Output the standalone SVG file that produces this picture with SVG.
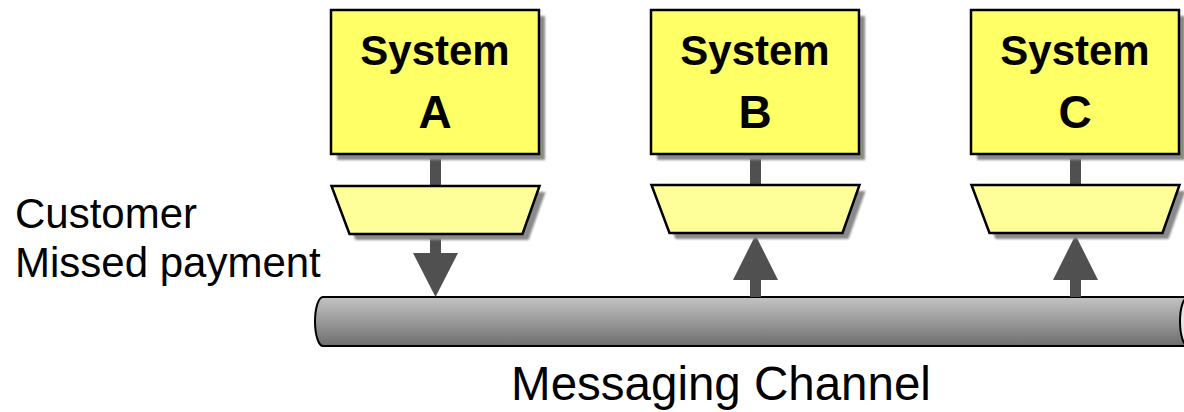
<svg xmlns="http://www.w3.org/2000/svg" width="1184" height="412" viewBox="0 0 1184 412">
  <defs>
    <linearGradient id="pipeGrad" x1="0" y1="0" x2="0" y2="1">
      <stop offset="0" stop-color="#c4c4c4"/>
      <stop offset="1" stop-color="#6e6e6e"/>
    </linearGradient>
    <filter id="soft" x="-10%" y="-10%" width="120%" height="120%">
      <feGaussianBlur stdDeviation="1"/>
    </filter>
    <!-- endpoint shape: trapezoid centred on x=0 -->
    <polygon id="trap" points="-104,0 104,0 87,48 -86,48"/>
  </defs>
  <style>
    .sys { fill: #ffff66; stroke: #000; stroke-width: 2.5; }
    .shadow { fill: #8a8a8a; filter: url(#soft); }
    .ep { fill: #ffff99; stroke: #000; stroke-width: 2.5; }
    .stem { fill: #505050; }
    .title { font-family: "Liberation Sans", Arial, sans-serif; font-weight: bold; font-size: 42px; text-anchor: middle; fill: #000; }
    .letter { font-family: "Liberation Sans", Arial, sans-serif; font-weight: bold; font-size: 46px; text-anchor: middle; fill: #000; }
    .label { font-family: "Liberation Sans", Arial, sans-serif; font-size: 42px; fill: #000; }
    .chan { font-family: "Liberation Sans", Arial, sans-serif; font-size: 47.5px; text-anchor: middle; fill: #000; }
  </style>

  <!-- messaging channel pipe -->
  <g id="channel">
    <path d="M323,297 H1192 V346 H323 A8,24.5 0 0 1 323,297 Z" fill="url(#pipeGrad)" stroke="#000" stroke-width="2"/>
    <ellipse cx="1188" cy="321.5" rx="8" ry="24.5" fill="#e6e6e6" stroke="#000" stroke-width="2"/>
    <text class="chan" x="721" y="400">Messaging Channel</text>
  </g>

  <!-- connectors: stems and arrows between systems, endpoints and channel -->
  <g id="connectors">
    <rect class="stem" x="430" y="154" width="11" height="32"/>
    <rect class="stem" x="750" y="154" width="11" height="32"/>
    <rect class="stem" x="1070" y="154" width="11" height="32"/>
    <!-- A sends down -->
    <rect class="stem" x="430" y="234" width="11" height="20"/>
    <polygon class="stem" points="413,253 458,253 435.5,297"/>
    <!-- B receives up -->
    <rect class="stem" x="750" y="278" width="11" height="19"/>
    <polygon class="stem" points="733,280 778,280 755.5,235"/>
    <!-- C receives up -->
    <rect class="stem" x="1070" y="278" width="11" height="19"/>
    <polygon class="stem" points="1053,280 1098,280 1075.5,235"/>
  </g>

  <g id="systemA">
    <rect class="shadow" x="337" y="16" width="208" height="144"/>
    <rect class="sys" x="331" y="10" width="208" height="144"/>
    <text class="title" x="435" y="65">System</text>
    <text class="letter" x="435" y="128">A</text>
  </g>
  <g id="systemB">
    <rect class="shadow" x="657" y="16" width="208" height="144"/>
    <rect class="sys" x="651" y="10" width="208" height="144"/>
    <text class="title" x="755" y="65">System</text>
    <text class="letter" x="755" y="128">B</text>
  </g>
  <g id="systemC">
    <rect class="shadow" x="977" y="16" width="208" height="144"/>
    <rect class="sys" x="971" y="10" width="208" height="144"/>
    <text class="title" x="1075" y="65">System</text>
    <text class="letter" x="1075" y="128">C</text>
  </g>

  <g id="endpointA">
    <use href="#trap" class="shadow" x="441.5" y="192"/>
    <use href="#trap" class="ep" x="435.5" y="186"/>
  </g>
  <g id="endpointB">
    <use href="#trap" class="shadow" x="761.5" y="191"/>
    <use href="#trap" class="ep" x="755.5" y="185"/>
  </g>
  <g id="endpointC">
    <use href="#trap" class="shadow" x="1081.5" y="191"/>
    <use href="#trap" class="ep" x="1075.5" y="185"/>
  </g>

  <g id="message-label">
    <text class="label" x="15" y="228">Customer</text>
    <text class="label" x="15" y="277">Missed payment</text>
  </g>
</svg>
